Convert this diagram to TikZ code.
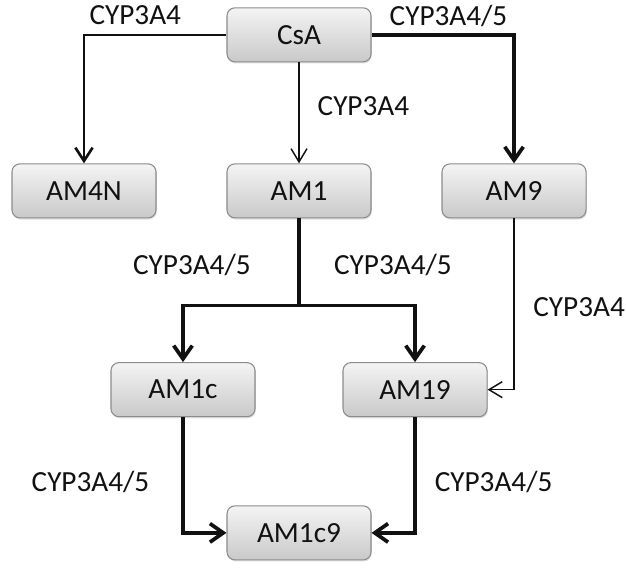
\documentclass[tikz,border=0pt]{standalone}
\usepackage{fontspec}
\setmainfont{Carlito}
\usetikzlibrary{arrows.meta, positioning, calc, shadows}
\definecolor{boxline}{HTML}{8C8C8C}
\definecolor{boxtop}{HTML}{F4F4F4}
\definecolor{boxbot}{HTML}{C9C9C9}
\definecolor{inkline}{HTML}{111111}

\begin{document}
\begin{tikzpicture}[
  node distance=2.67cm and 1.85cm,
  met/.style={draw=boxline, line width=0.8pt, rounded corners=6pt, top color=boxtop, bottom color=boxbot, minimum width=3.81cm, minimum height=1.43cm, inner sep=0pt, font=\fontsize{22}{26}\selectfont, text=inkline, drop shadow={shadow xshift=0.6pt, shadow yshift=-1.2pt, opacity=0.25, fill=gray}},
  lab/.style={inner sep=0pt, font=\fontsize{22}{26}\selectfont, text=inkline},
  arrowthin/.style={-{Straight Barb[length=10pt, width=12pt]}, line width=1.1pt, draw=inkline},
  arrowmid/.style={-{Straight Barb[length=10pt, width=13pt]}, line width=2pt, draw=inkline},
  arrowthick/.style={-{Straight Barb[length=10pt, width=14pt]}, line width=2.8pt, draw=inkline}]
  \useasboundingbox (-7.91,5.05) rectangle (8.65,-9.95);
  \node[met] (AM1) at (0,0) {AM1};
  \node[met, above=of AM1] (CsA) {CsA};
  \node[met, left=of AM1] (AM4N) {AM4N};
  \node[met, right=of AM1] (AM9) {AM9};
  \coordinate[below=2.3cm of AM1] (split);
  \node[met, below left=1.5cm and 1.15cm of split] (AM1c) {AM1c};
  \node[met, below right=1.5cm and 1.15cm of split] (AM19) {AM19};
  \node[met, below=2.33cm of $(AM1c.south)!0.5!(AM19.south)$] (AM1c9) {AM1c9};
  % CsA branches
  \draw[arrowmid] (CsA.west) -| node[lab, pos=0.32, anchor=base, yshift=7.5pt] (l1) {CYP3A4} (AM4N.north);
  \draw[arrowthin] (CsA.south) -- node[lab, pos=0.435, anchor=west, xshift=13.5pt] (l2) {CYP3A4} (AM1.north);
  \draw[arrowthick] (CsA.east) -| node[lab, pos=0.27, anchor=base, yshift=7pt] (l3) {CYP3A4/5} (AM9.north);
  % AM1 split
  \draw[arrowthick] (AM1.south) -- node[lab, pos=0.54, anchor=east, xshift=-35pt] (l4) {CYP3A4/5} node[lab, pos=0.54, anchor=west, xshift=25pt] (l5) {CYP3A4/5} (split) -| (AM1c.north);
  \draw[arrowthick] (split) -| (AM19.north);
  \draw[arrowthin] (AM9.south) |- node[lab, pos=0.26, anchor=west, xshift=14pt] (l6) {CYP3A4} (AM19.east);
  % to AM1c9
  \draw[arrowthick] (AM1c.south) |- node[lab, pos=0.28, anchor=east, xshift=-24pt] (l7) {CYP3A4/5} (AM1c9.west);
  \draw[arrowthick] (AM19.south) |- node[lab, pos=0.28, anchor=west, xshift=13.5pt] (l8) {CYP3A4/5} (AM1c9.east);
\end{tikzpicture}
\end{document}
